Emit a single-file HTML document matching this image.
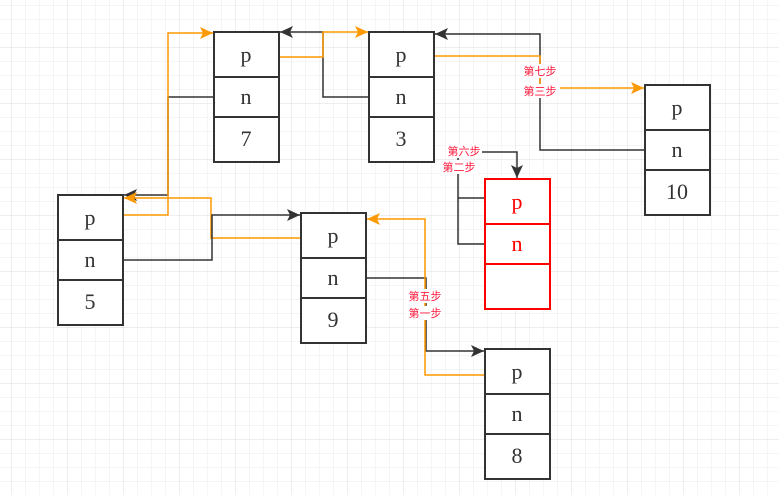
<!DOCTYPE html>
<html><head><meta charset="utf-8"><style>
html,body{margin:0;padding:0;}
body{width:779px;height:495px;overflow:hidden;background:#fff;}
</style></head><body>
<svg width="779" height="495" xmlns="http://www.w3.org/2000/svg">
<defs>
<pattern id="g" x="11" y="5" width="14" height="14" patternUnits="userSpaceOnUse">
<path d="M0 0H14M0 0V14" stroke="#ebebeb" stroke-width="1" fill="none"/>
</pattern>
<pattern id="G" x="11" y="-9" width="56" height="56" patternUnits="userSpaceOnUse">
<path d="M0 0H56M0 0V56" stroke="#dcdcdc" stroke-width="1" fill="none"/>
</pattern>
<marker id="ab" viewBox="0 0 13 12" refX="13" refY="6" markerWidth="13" markerHeight="12" markerUnits="userSpaceOnUse" orient="auto"><path d="M0 0L13 6L0 12L3 6z" fill="#333"/></marker>
<marker id="ao" viewBox="0 0 13 12" refX="13" refY="6" markerWidth="13" markerHeight="12" markerUnits="userSpaceOnUse" orient="auto"><path d="M0 0L13 6L0 12L3 6z" fill="#f90"/></marker>
</defs>
<rect width="779" height="495" fill="url(#g)"/>
<rect width="779" height="495" fill="url(#G)"/>
<g fill="none" stroke-width="1.5">
<path d="M214 97H168V195H124" stroke="#333" marker-end="url(#ab)"/>
<path d="M123 215H168V33H213" stroke="#f90" marker-end="url(#ao)"/>
<path d="M301 238H211V198H124" stroke="#f90" marker-end="url(#ao)"/>
<path d="M123 260H212V215H300" stroke="#333" marker-end="url(#ab)"/>
<path d="M369 97H323V32H280" stroke="#333" marker-end="url(#ab)"/>
<path d="M279 57H323V32H368" stroke="#f90" marker-end="url(#ao)"/>
<path d="M645 150H540V34H435" stroke="#333" marker-end="url(#ab)"/>
<path d="M434 56H540V88H644" stroke="#f90" marker-end="url(#ao)"/>
<path d="M485 244H458V152H517V178" stroke="#333" marker-end="url(#ab)"/>
<path d="M485 198H458" stroke="#333"/>
<path d="M366 278H426V351H484" stroke="#333" marker-end="url(#ab)"/>
<path d="M485 375H425V219H367" stroke="#f90" marker-end="url(#ao)"/>
</g>
<g font-family="Liberation Sans, Noto Sans CJK SC, sans-serif" font-size="11" fill="#ff1a3c" text-anchor="middle">
<rect x="520" y="64" width="40" height="14" fill="#fff"/><text x="540" y="75">第七步</text>
<rect x="520" y="84" width="40" height="14" fill="#fff"/><text x="540" y="95">第三步</text>
<rect x="446" y="144" width="36" height="14" fill="#fff"/><text x="464" y="155">第六步</text>
<rect x="440" y="160" width="38" height="14" fill="#fff"/><text x="459" y="171">第二步</text>
<rect x="406" y="289" width="38" height="14" fill="#fff"/><text x="425" y="300">第五步</text>
<rect x="406" y="306" width="38" height="14" fill="#fff"/><text x="425" y="317">第一步</text>
</g>
<g font-family="Liberation Serif, serif" font-size="22" text-anchor="middle" fill="#333">
<g stroke="#333" stroke-width="2" fill="#fff">
<rect x="214" y="32" width="65" height="130"/><path d="M214 77H279M214 117H279"/>
<rect x="369" y="32" width="65" height="130"/><path d="M369 77H434M369 117H434"/>
<rect x="645" y="85" width="65" height="130"/><path d="M645 130H710M645 170H710"/>
<rect x="58" y="195" width="65" height="130"/><path d="M58 240H123M58 280H123"/>
<rect x="301" y="213" width="65" height="130"/><path d="M301 258H366M301 298H366"/>
<rect x="485" y="349" width="65" height="130"/><path d="M485 394H550M485 434H550"/>
</g>
<rect x="485" y="179" width="65" height="130" stroke="#f00" stroke-width="2" fill="#fff"/>
<path d="M485 224H550M485 264H550" stroke="#f00" stroke-width="2"/>
<text x="246" y="62">p</text><text x="246" y="104">n</text><text x="246" y="146">7</text>
<text x="401" y="62">p</text><text x="401" y="104">n</text><text x="401" y="146">3</text>
<text x="677" y="115">p</text><text x="677" y="157">n</text><text x="677" y="199">10</text>
<text x="90" y="225">p</text><text x="90" y="267">n</text><text x="90" y="309">5</text>
<text x="333" y="243">p</text><text x="333" y="285">n</text><text x="333" y="327">9</text>
<text x="517" y="379">p</text><text x="517" y="421">n</text><text x="517" y="463">8</text>
<text x="517" y="209" fill="#f00">p</text><text x="517" y="251" fill="#f00">n</text>
</g>
</svg>
</body></html>
